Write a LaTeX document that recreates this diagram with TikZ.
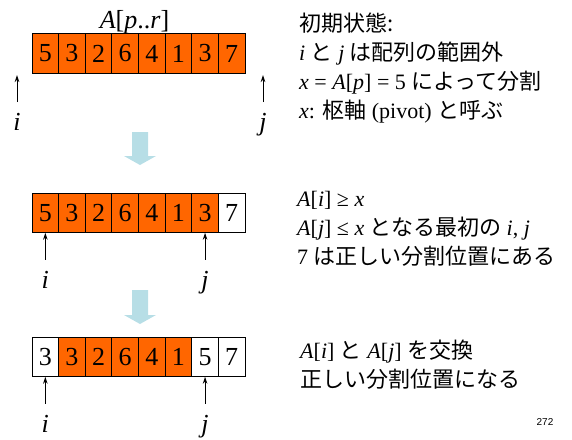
\documentclass[tikz,border=0pt]{standalone}
\usepackage{fontspec}
\setmainfont{Liberation Serif}
\newfontfamily\jp{Noto Sans CJK JP}
\newfontfamily\arialf{Liberation Sans}
\usetikzlibrary{arrows.meta}
\definecolor{orng}{RGB}{255,102,0}
\definecolor{lblue}{RGB}{183,222,230}
\newcommand\iv[1]{\textit{#1}}
\begin{document}
\begin{tikzpicture}[x=1pt,y=-1pt,
  cell/.style={draw=black, line width=0.8pt, minimum width=26.625pt, minimum height=39.5pt, inner sep=0pt, outer sep=0pt, font=\fontsize{26}{30}\selectfont},
  hot/.style={cell, fill=orng},
  cold/.style={cell, fill=white},
  ptr/.style={-{Stealth[length=7pt,width=4.5pt]}, line width=1pt},
  lbl/.style={anchor=base, inner sep=0pt, font=\fontsize{26}{30}\selectfont\itshape},
  txt/.style={anchor=base west, inner sep=0pt, font=\fontsize{22}{26}\selectfont},
  bigarrow/.style={fill=lblue, draw=none}]
\useasboundingbox (0,0) rectangle (572,439);

% row 1
\node[lbl, font=\fontsize{26}{30}\selectfont] (title) at (134.5,28.5) {\iv{A}[\iv{p}..\iv{r}]};
\foreach \v [count=\k] in {5,3,2,6,4,1,3,7}
  \node[hot] (a\k) at ({32+26.625*(\k-0.5)},53.5) {\v};
\node[lbl] (li1) at (17,130) {i};
\node[lbl] (lj1) at (263,130) {j};
\coordinate (ti1) at (17,102);
\coordinate (hi1) at (17,75);
\coordinate (tj1) at (263,102);
\coordinate (hj1) at (263,75);
\draw[ptr] (ti1) -- (hi1);
\draw[ptr] (tj1) -- (hj1);

% big arrow 1
\fill[bigarrow] (132,132) -- (148,132) -- (148,156) -- (156,156) -- (140,165) -- (124,156) -- (132,156) -- cycle;

% row 2
\foreach \v/\s [count=\k] in {5/hot,3/hot,2/hot,6/hot,4/hot,1/hot,3/hot,7/cold}
  \node[\s] (b\k) at ({32+26.625*(\k-0.5)},213) {\v};
\coordinate (ti2) at ([yshift=-27pt]b1.south);
\coordinate (tj2) at ([yshift=-27pt]b7.south);
\draw[ptr] (ti2) -- (b1.south);
\draw[ptr] (tj2) -- (b7.south);
\node[lbl] (li2) at ([yshift=-56pt]b1.south) {i};
\node[lbl] (lj2) at ([yshift=-56pt]b7.south) {j};

% big arrow 2
\fill[bigarrow] (132,290) -- (148,290) -- (148,315) -- (156,315) -- (140,324) -- (124,315) -- (132,315) -- cycle;

% row 3
\foreach \v/\s [count=\k] in {3/cold,3/hot,2/hot,6/hot,4/hot,1/hot,5/cold,7/cold}
  \node[\s] (c\k) at ({32+26.625*(\k-0.5)},357) {\v};
\coordinate (ti3) at ([yshift=-27pt]c1.south);
\coordinate (tj3) at ([yshift=-27pt]c7.south);
\draw[ptr] (ti3) -- (c1.south);
\draw[ptr] (tj3) -- (c7.south);
\node[lbl] (li3) at ([yshift=-56pt]c1.south) {i};
\node[lbl] (lj3) at ([yshift=-56pt]c7.south) {j};

% text block 1
\node[txt] (t11) at (299,31) {\jp 初期状態:};
\node[txt] (t12) at (299,60) {\iv{i} {\jp と} \iv{j} {\jp は配列の範囲外}};
\node[txt] (t13) at (299,89) {\iv{x} = \iv{A}[\iv{p}] = 5 {\jp によって分割}};
\node[txt] (t14) at (299,118) {\iv{x}: {\jp 枢軸} (pivot) {\jp と呼ぶ}};

% text block 2
\node[txt] (t21) at (297,206) {\iv{A}[\iv{i}] ≥ \iv{x}};
\node[txt] (t22) at (297,235) {\iv{A}[\iv{j}] ≤ \iv{x} {\jp となる最初の} \iv{i}, \iv{j}};
\node[txt] (t23) at (297,264) {7 {\jp は正しい分割位置にある}};

% text block 3
\node[txt] (t31) at (300,358) {\iv{A}[\iv{i}] {\jp と} \iv{A}[\iv{j}] {\jp を交換}};
\node[txt] (t32) at (300,387) {\jp 正しい分割位置になる};

\node[anchor=base, inner sep=0pt, font=\arialf\fontsize{10}{12}\selectfont] (pg) at (545,425.5) {272};
\end{tikzpicture}
\end{document}
